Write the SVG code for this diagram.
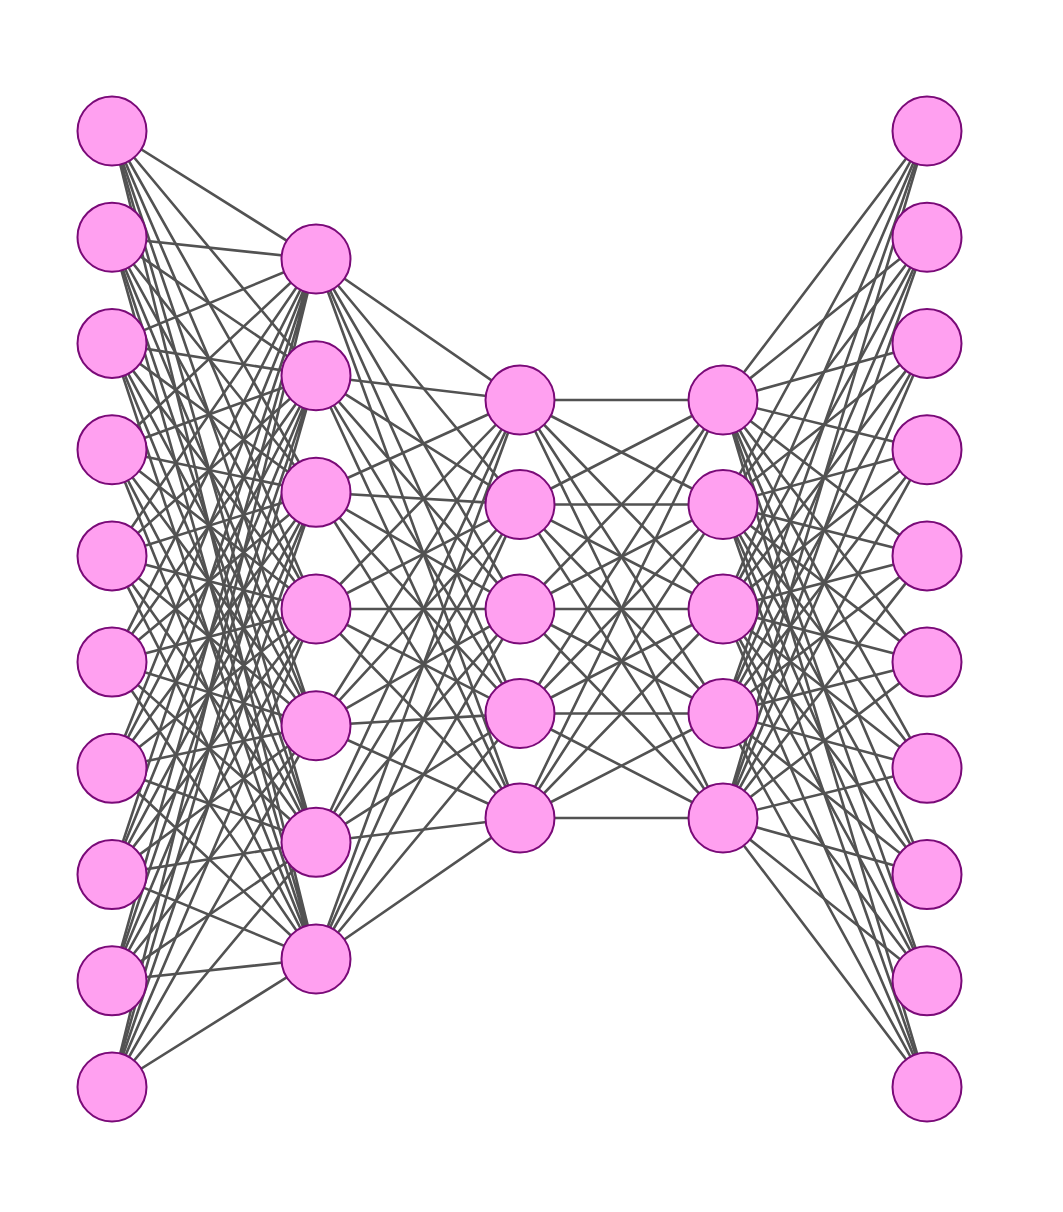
<svg xmlns="http://www.w3.org/2000/svg" width="1063" height="1212" viewBox="0 0 1063 1212">
<style>
.e{fill:none;stroke:#525252;stroke-width:2.6}
.n{fill:#ffa0f0;stroke:#7a0a78;stroke-width:2}
</style>
<rect width="1063" height="1212" fill="#fff"/>
<g id="connectors">
<path class="e" d="M316 259L112 131M316 259L112 237.2M316 259L112 343.4M316 259L112 449.7M316 259L112 555.9M316 259L112 662.1M316 259L112 768.3M316 259L112 874.6M316 259L112 980.8M316 259L112 1087"/>
<path class="e" d="M316 375.7L112 131M316 375.7L112 237.2M316 375.7L112 343.4M316 375.7L112 449.7M316 375.7L112 555.9M316 375.7L112 662.1M316 375.7L112 768.3M316 375.7L112 874.6M316 375.7L112 980.8M316 375.7L112 1087"/>
<path class="e" d="M316 492.3L112 131M316 492.3L112 237.2M316 492.3L112 343.4M316 492.3L112 449.7M316 492.3L112 555.9M316 492.3L112 662.1M316 492.3L112 768.3M316 492.3L112 874.6M316 492.3L112 980.8M316 492.3L112 1087"/>
<path class="e" d="M316 609L112 131M316 609L112 237.2M316 609L112 343.4M316 609L112 449.7M316 609L112 555.9M316 609L112 662.1M316 609L112 768.3M316 609L112 874.6M316 609L112 980.8M316 609L112 1087"/>
<path class="e" d="M316 725.7L112 131M316 725.7L112 237.2M316 725.7L112 343.4M316 725.7L112 449.7M316 725.7L112 555.9M316 725.7L112 662.1M316 725.7L112 768.3M316 725.7L112 874.6M316 725.7L112 980.8M316 725.7L112 1087"/>
<path class="e" d="M316 842.3L112 131M316 842.3L112 237.2M316 842.3L112 343.4M316 842.3L112 449.7M316 842.3L112 555.9M316 842.3L112 662.1M316 842.3L112 768.3M316 842.3L112 874.6M316 842.3L112 980.8M316 842.3L112 1087"/>
<path class="e" d="M316 959L112 131M316 959L112 237.2M316 959L112 343.4M316 959L112 449.7M316 959L112 555.9M316 959L112 662.1M316 959L112 768.3M316 959L112 874.6M316 959L112 980.8M316 959L112 1087"/>
<path class="e" d="M520 400L316 259M520 400L316 375.7M520 400L316 492.3M520 400L316 609M520 400L316 725.7M520 400L316 842.3M520 400L316 959"/>
<path class="e" d="M520 504.5L316 259M520 504.5L316 375.7M520 504.5L316 492.3M520 504.5L316 609M520 504.5L316 725.7M520 504.5L316 842.3M520 504.5L316 959"/>
<path class="e" d="M520 609L316 259M520 609L316 375.7M520 609L316 492.3M520 609L316 609M520 609L316 725.7M520 609L316 842.3M520 609L316 959"/>
<path class="e" d="M520 713.5L316 259M520 713.5L316 375.7M520 713.5L316 492.3M520 713.5L316 609M520 713.5L316 725.7M520 713.5L316 842.3M520 713.5L316 959"/>
<path class="e" d="M520 818L316 259M520 818L316 375.7M520 818L316 492.3M520 818L316 609M520 818L316 725.7M520 818L316 842.3M520 818L316 959"/>
<path class="e" d="M723 400L520 400M723 400L520 504.5M723 400L520 609M723 400L520 713.5M723 400L520 818"/>
<path class="e" d="M723 504.5L520 400M723 504.5L520 504.5M723 504.5L520 609M723 504.5L520 713.5M723 504.5L520 818"/>
<path class="e" d="M723 609L520 400M723 609L520 504.5M723 609L520 609M723 609L520 713.5M723 609L520 818"/>
<path class="e" d="M723 713.5L520 400M723 713.5L520 504.5M723 713.5L520 609M723 713.5L520 713.5M723 713.5L520 818"/>
<path class="e" d="M723 818L520 400M723 818L520 504.5M723 818L520 609M723 818L520 713.5M723 818L520 818"/>
<path class="e" d="M723 400L927 131M723 400L927 237.2M723 400L927 343.4M723 400L927 449.7M723 400L927 555.9M723 400L927 662.1M723 400L927 768.3M723 400L927 874.6M723 400L927 980.8M723 400L927 1087"/>
<path class="e" d="M723 504.5L927 131M723 504.5L927 237.2M723 504.5L927 343.4M723 504.5L927 449.7M723 504.5L927 555.9M723 504.5L927 662.1M723 504.5L927 768.3M723 504.5L927 874.6M723 504.5L927 980.8M723 504.5L927 1087"/>
<path class="e" d="M723 609L927 131M723 609L927 237.2M723 609L927 343.4M723 609L927 449.7M723 609L927 555.9M723 609L927 662.1M723 609L927 768.3M723 609L927 874.6M723 609L927 980.8M723 609L927 1087"/>
<path class="e" d="M723 713.5L927 131M723 713.5L927 237.2M723 713.5L927 343.4M723 713.5L927 449.7M723 713.5L927 555.9M723 713.5L927 662.1M723 713.5L927 768.3M723 713.5L927 874.6M723 713.5L927 980.8M723 713.5L927 1087"/>
<path class="e" d="M723 818L927 131M723 818L927 237.2M723 818L927 343.4M723 818L927 449.7M723 818L927 555.9M723 818L927 662.1M723 818L927 768.3M723 818L927 874.6M723 818L927 980.8M723 818L927 1087"/>
</g>
<g id="layer1">
<g id="n1_1"><circle class="n" cx="112" cy="131" r="34.5"/></g>
<g id="n1_2"><circle class="n" cx="112" cy="237.2" r="34.5"/></g>
<g id="n1_3"><circle class="n" cx="112" cy="343.4" r="34.5"/></g>
<g id="n1_4"><circle class="n" cx="112" cy="449.7" r="34.5"/></g>
<g id="n1_5"><circle class="n" cx="112" cy="555.9" r="34.5"/></g>
<g id="n1_6"><circle class="n" cx="112" cy="662.1" r="34.5"/></g>
<g id="n1_7"><circle class="n" cx="112" cy="768.3" r="34.5"/></g>
<g id="n1_8"><circle class="n" cx="112" cy="874.6" r="34.5"/></g>
<g id="n1_9"><circle class="n" cx="112" cy="980.8" r="34.5"/></g>
<g id="n1_10"><circle class="n" cx="112" cy="1087" r="34.5"/></g>
</g>
<g id="layer2">
<g id="n2_1"><circle class="n" cx="316" cy="259" r="34.5"/></g>
<g id="n2_2"><circle class="n" cx="316" cy="375.7" r="34.5"/></g>
<g id="n2_3"><circle class="n" cx="316" cy="492.3" r="34.5"/></g>
<g id="n2_4"><circle class="n" cx="316" cy="609" r="34.5"/></g>
<g id="n2_5"><circle class="n" cx="316" cy="725.7" r="34.5"/></g>
<g id="n2_6"><circle class="n" cx="316" cy="842.3" r="34.5"/></g>
<g id="n2_7"><circle class="n" cx="316" cy="959" r="34.5"/></g>
</g>
<g id="layer3">
<g id="n3_1"><circle class="n" cx="520" cy="400" r="34.5"/></g>
<g id="n3_2"><circle class="n" cx="520" cy="504.5" r="34.5"/></g>
<g id="n3_3"><circle class="n" cx="520" cy="609" r="34.5"/></g>
<g id="n3_4"><circle class="n" cx="520" cy="713.5" r="34.5"/></g>
<g id="n3_5"><circle class="n" cx="520" cy="818" r="34.5"/></g>
</g>
<g id="layer4">
<g id="n4_1"><circle class="n" cx="723" cy="400" r="34.5"/></g>
<g id="n4_2"><circle class="n" cx="723" cy="504.5" r="34.5"/></g>
<g id="n4_3"><circle class="n" cx="723" cy="609" r="34.5"/></g>
<g id="n4_4"><circle class="n" cx="723" cy="713.5" r="34.5"/></g>
<g id="n4_5"><circle class="n" cx="723" cy="818" r="34.5"/></g>
</g>
<g id="layer5">
<g id="n5_1"><circle class="n" cx="927" cy="131" r="34.5"/></g>
<g id="n5_2"><circle class="n" cx="927" cy="237.2" r="34.5"/></g>
<g id="n5_3"><circle class="n" cx="927" cy="343.4" r="34.5"/></g>
<g id="n5_4"><circle class="n" cx="927" cy="449.7" r="34.5"/></g>
<g id="n5_5"><circle class="n" cx="927" cy="555.9" r="34.5"/></g>
<g id="n5_6"><circle class="n" cx="927" cy="662.1" r="34.5"/></g>
<g id="n5_7"><circle class="n" cx="927" cy="768.3" r="34.5"/></g>
<g id="n5_8"><circle class="n" cx="927" cy="874.6" r="34.5"/></g>
<g id="n5_9"><circle class="n" cx="927" cy="980.8" r="34.5"/></g>
<g id="n5_10"><circle class="n" cx="927" cy="1087" r="34.5"/></g>
</g>
</svg>
